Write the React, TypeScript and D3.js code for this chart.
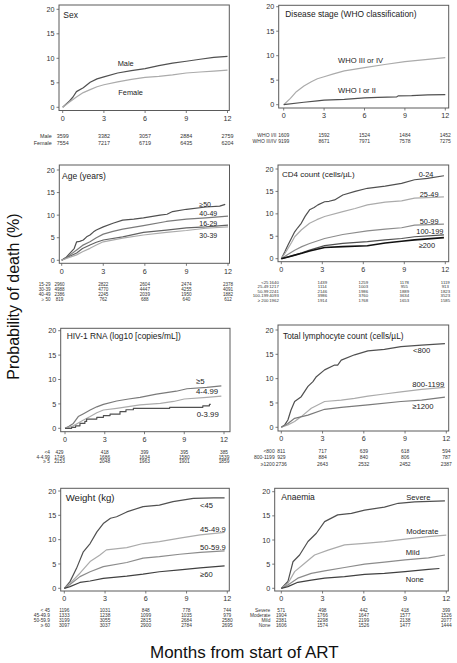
import React from "react";
import * as d3 from "d3";

// ---------------- DATA ----------------
const MONTH_TICKS = [0, 3, 6, 9, 12];
const PCT_TICKS = [0, 5, 10, 15, 20];

type Pt = [number, number];

// Sex
const SEX_TITLE = "Sex";
const SEX_GROUPS = ["Male", "Female"];
const SEX_RISK_LABELS = ["Male", "Female"];
const SEX_MALE: Pt[] = [[0,0],[0.5,1.3],[0.75,2.1],[1,3.2],[1.5,4],[2,5.1],[2.5,5.8],[3,6.2],[4,7],[5,7.5],[6,7.9],[7,8.5],[8,9],[9,9.4],[10,9.8],[11,10.2],[12,10.4]];
const SEX_FEMALE: Pt[] = [[0,0],[0.5,1.1],[1,2.1],[1.5,3],[2,3.6],[2.5,4.2],[3,4.6],[4,5.2],[5,5.7],[6,6.1],[7,6.3],[8,6.6],[9,7],[10,7.2],[11,7.4],[12,7.6]];
const SEX_RISK = [[3599, 3382, 3057, 2884, 2759], [7554, 7217, 6719, 6435, 6204]];

// Disease stage
const STAGE_TITLE = "Disease stage (WHO classification)";
const STAGE_GROUPS = ["WHO III or IV", "WHO I or II"];
const STAGE_RISK_LABELS = ["WHO I/II", "WHO III/IV"];
const STAGE_34: Pt[] = [[0,0],[0.5,1.3],[0.94,2.65],[1.5,3.8],[2.05,4.7],[2.5,5.3],[3,5.7],[3.7,6.3],[4.5,6.9],[5.2,7.2],[6,7.55],[7.5,8.2],[9,8.8],[10.7,9.25],[12,9.6]];
const STAGE_12: Pt[] = [[0,0],[1.5,0.5],[2.5,0.8],[3,0.95],[4.5,1.1],[5,1.2],[6,1.4],[7,1.5],[8.4,1.6],[8.5,1.8],[9.5,1.85],[10.7,2.0],[12,2.05]];
const STAGE_RISK = [[1609, 1592, 1524, 1484, 1452], [9199, 8671, 7971, 7578, 7275]];

// Age
const AGE_TITLE = "Age (years)";
const AGE_GROUPS = ["\u226550", "40-49", "16-29", "30-39"];
const AGE_RISK_LABELS = ["15-29", "30-39", "40-49", "\u2265 50"];
const AGE_50: Pt[] = [[0,0],[0.3,0.6],[0.6,1.6],[0.9,2.6],[1.08,4.1],[1.3,4.2],[1.56,4.5],[1.8,5.2],[2.04,5.6],[2.3,6.3],[2.5,6.7],[3,7.4],[3.7,8.2],[4.4,8.9],[5.2,9.1],[5.9,9.4],[7.1,10],[7.6,10.2],[8,10.8],[9,11.3],[10.4,11.8],[11.4,12],[11.8,12.4]];
const AGE_40: Pt[] = [[0,0],[0.6,1.2],[1.08,2.3],[1.5,3.3],[2.04,4.1],[2.5,5],[3,5.8],[3.7,6.4],[4.4,6.9],[5.9,7.7],[7.55,8.6],[9,9.1],[10.4,9.4],[12,9.8]];
const AGE_15: Pt[] = [[0,0],[0.5,0.8],[1.08,1.6],[1.5,2.6],[2.04,3.4],[2.5,4],[3,4.5],[4.4,5.2],[5.9,6.2],[7.55,6.7],[9,7.2],[10.4,7.4],[12,7.8]];
const AGE_30: Pt[] = [[0,0],[0.5,0.6],[1.08,1.2],[1.5,1.9],[2.04,2.65],[2.5,3.4],[3,4.1],[4.4,4.9],[5.9,5.6],[7.55,6.2],[9,6.6],[10.4,7.1],[12,7.4]];
const AGE_RISK = [[2960, 2822, 2604, 2474, 2378], [4988, 4770, 4447, 4255, 4091], [2386, 2245, 2039, 1950, 1882], [819, 762, 688, 640, 612]];

// CD4
const CD4_TITLE = "CD4 count (cells/\u00b5L)";
const CD4_GROUPS = ["0-24", "25-49", "50-99", "100-199", "\u2265200"];
const CD4_RISK_LABELS = ["<25", "25-49", "50-99", "100-199", "\u2265 200"];
const CD4_0: Pt[] = [[0,0],[0.25,1.5],[0.49,3.05],[0.75,4.6],[0.98,6],[1.2,6.9],[1.46,7.9],[1.75,9.5],[2.07,10.9],[2.4,11.4],[2.68,12],[3.17,12.7],[3.5,12.8],[3.9,13.1],[4.5,14.2],[5.4,15],[6.3,15.7],[7.6,16.2],[8.8,16.8],[9.75,17.6],[10.7,17.9],[11.9,18.5]];
const CD4_25: Pt[] = [[0,0],[0.25,1.1],[0.49,2.3],[0.75,3.6],[0.98,4.9],[1.46,6.4],[2.07,7.9],[2.6,8.7],[3.17,9.4],[4.5,10.5],[5.4,11.2],[6.3,12.0],[7.6,12.6],[8.8,12.9],[9.75,13.5],[11.9,13.8]];
const CD4_50: Pt[] = [[0,0],[0.5,1],[0.98,1.9],[1.5,2.7],[2.07,3.4],[3.17,4.5],[4.5,5.4],[6.3,6.2],[7.6,6.6],[8.8,6.9],[9.75,7.5],[11.9,7.7]];
const CD4_100: Pt[] = [[0,0],[0.5,0.4],[0.98,0.8],[1.5,1.3],[2.07,1.9],[3.17,2.9],[4.5,3.4],[6.3,3.8],[7.6,4.2],[8.8,4.5],[9.75,4.9],[11.9,5.3]];
const CD4_200: Pt[] = [[0,0],[0.5,0.4],[0.98,0.8],[1.5,1.2],[2.07,1.7],[3.17,2.5],[4.5,2.7],[6.3,2.9],[7.6,3.5],[8.8,3.9],[9.75,4.2],[11.9,4.7]];
const CD4_RISK = [[1640, 1439, 1259, 1178, 1119], [1217, 1114, 1003, 955, 913], [2241, 2146, 1986, 1889, 1823], [4093, 3986, 3760, 3634, 3523], [1962, 1914, 1768, 1653, 1585]];

// HIV-1 RNA
const RNA_TITLE = "HIV-1 RNA (log10 [copies/mL])";
const RNA_GROUPS = ["\u22655", "4-4.99", "0-3.99"];
const RNA_RISK_LABELS = ["<4", "4-4.99", "\u2265 5"];
const RNA_5: Pt[] = [[0,0],[0.3,0.4],[0.63,1.0],[1.0,2.4],[1.4,3.0],[1.9,3.75],[2.4,4.4],[2.9,4.9],[3.9,5.6],[4.8,6.0],[5.66,6.35],[6.9,7.0],[8.4,7.6],[9.2,8.1],[10.7,8.4],[11.8,8.7]];
const RNA_4: Pt[] = [[0,0],[0.63,0.5],[1.0,1.1],[1.4,1.7],[1.9,2.4],[2.4,3.2],[2.9,3.75],[3.9,4.1],[5.66,4.8],[7.2,5.1],[8.2,5.5],[9.0,6.0],[10.7,6.35],[11.8,6.6]];
const RNA_0: Pt[] = [[0,0],[0.5,0.2],[0.8,0.5],[1.13,1.0],[1.5,1.4],[1.63,1.9],[2.4,2.25],[2.9,2.6],[3.4,2.9],[4.15,3.4],[4.6,3.8],[5.16,4.1],[7.9,4.3],[10.4,4.6],[10.9,4.9],[11.0,4.9]];
const RNA_RISK = [[429, 418, 399, 395, 385], [1746, 1686, 1634, 1580, 1539], [2153, 2048, 1963, 1901, 1859]];

// Total lymphocyte count
const TLC_TITLE = "Total lymphocyte count (cells/\u00b5L)";
const TLC_GROUPS = ["<800", "800-1199", "\u22651200"];
const TLC_RISK_LABELS = ["<800", "800-1199", "\u22651200"];
const TLC_800: Pt[] = [[0,0],[0.25,0.5],[0.48,1.5],[0.7,3.5],[0.97,5.3],[1.45,6.3],[1.94,8.4],[2.3,9.4],[2.55,10.4],[3.15,11.8],[3.88,12.8],[4.1,12.8],[4.36,13.8],[5.33,14.9],[6.3,15.7],[7.5,16.0],[8.7,16.6],[10.2,16.9],[11.9,17.2]];
const TLC_1199: Pt[] = [[0,0],[0.48,0.5],[0.97,1.2],[1.45,2.2],[2.18,3.9],[3.15,5.3],[4.36,5.6],[5.33,5.95],[6.3,6.4],[7.5,6.85],[8.7,7.3],[10.2,7.8],[11.9,8.2]];
const TLC_1200: Pt[] = [[0,0],[0.48,0.8],[0.97,1.85],[1.94,2.5],[3.15,3.7],[4.36,4.1],[6.3,4.6],[8.7,5.3],[10.2,5.6],[11.9,6.2]];
const TLC_RISK = [[811, 717, 639, 618, 594], [929, 884, 840, 806, 787], [2736, 2643, 2532, 2452, 2387]];

// Weight
const WT_TITLE = "Weight (kg)";
const WT_GROUPS = ["<45", "45-49.9", "50-59.9", "\u226560"];
const WT_RISK_LABELS = ["< 45", "45-49.9", "50-59.9", "\u2265 60"];
const WT_45: Pt[] = [[0,0],[0.42,1.37],[0.9,4.1],[1.4,7.5],[1.9,9.2],[2.4,11.6],[2.87,13.3],[3.4,14.4],[3.85,14.7],[4.6,15.7],[5.8,16.8],[7.0,17.1],[8.0,17.8],[9.5,18.5],[11.0,18.6],[11.8,18.6]];
const WT_4549: Pt[] = [[0,0],[0.42,1.0],[1.15,3.1],[1.9,5.5],[2.6,6.8],[3.1,7.9],[4.6,8.35],[5.8,9.2],[7.0,9.6],[8.5,10.3],[10.0,11.0],[11.8,11.5]];
const WT_5059: Pt[] = [[0,0],[0.42,0.8],[1.15,2.4],[1.9,3.4],[2.87,4.45],[4.6,5.3],[5.8,6.2],[7.0,6.5],[8.5,7.0],[10.0,7.4],[11.8,7.7]];
const WT_60: Pt[] = [[0,0],[0.42,0.34],[1.15,1.2],[1.9,1.5],[2.87,2.05],[4.6,2.5],[5.8,2.9],[7.0,3.4],[8.5,3.8],[10.0,4.2],[11.8,4.6]];
const WT_RISK = [[1196, 1031, 848, 778, 744], [1333, 1238, 1099, 1035, 979], [3199, 3055, 2815, 2684, 2580], [3097, 3037, 2900, 2784, 2695]];

// Anaemia
const AN_TITLE = "Anaemia";
const AN_GROUPS = ["Severe", "Moderate", "Mild", "None"];
const AN_RISK_LABELS = ["Severe", "Moderate", "Mild", "None"];
const AN_SEV: Pt[] = [[0,0],[0.48,1.4],[0.85,5.5],[1.33,6.9],[1.94,9.7],[2.55,11.4],[3.15,13.8],[4.1,15.2],[5.1,15.5],[6.06,16.2],[7.5,16.8],[8.5,17.6],[9.7,17.9],[11.9,18.1]];
const AN_MOD: Pt[] = [[0,0],[0.48,1.0],[0.97,3.45],[1.7,5.2],[2.42,6.9],[3.4,7.9],[4.6,9.0],[6.06,9.3],[7.5,9.65],[9.0,10.2],[10.7,10.7],[12,11.0]];
const AN_MILD: Pt[] = [[0,0],[0.48,0.7],[1.2,2.1],[2.18,3.1],[3.15,3.6],[4.6,4.3],[6.06,5.0],[7.5,5.4],[9.0,5.9],[10.7,6.3],[11.9,6.9]];
const AN_NONE: Pt[] = [[0,0],[0.48,0.34],[1.2,1.24],[2.18,1.7],[3.15,2.1],[4.6,2.4],[6.06,2.9],[7.5,3.1],[9.0,3.45],[10.7,3.9],[11.5,4.1]];
const AN_RISK = [[571, 498, 442, 418, 399], [1904, 1766, 1647, 1577, 1526], [2381, 2298, 2199, 2138, 2077], [1606, 1574, 1526, 1477, 1444]];

const Y_AXIS_TITLE = "Probability of death (%)";
const X_AXIS_TITLE = "Months from start of ART";

// ---------------- LAYOUT / STYLE ----------------
const DARK = "#505050";
const MID = "#7a7a7a";
const MID2 = "#8c8c8c";
const LIGHT = "#ababab";

interface PanelCfg {
  title: string; titleX: number; titleY: number; titleSize: number;
  box: [number, number, number, number];
  xr: [number, number]; yr: [number, number];
  series: Pt[][]; colors: string[]; widths?: number[]; step?: boolean[];
  groups: string[]; labelPos: [number, number][]; labelSize: number;
  riskLabels: string[]; risk: number[][]; riskX: number; riskY: number[]; riskSize: number;
  firstColX?: number;
  tickSize: number;
}

const PANELS: PanelCfg[] = [
  { title: SEX_TITLE, titleX: 63.3, titleY: 18.3, titleSize: 8.5,
    box: [59, 5, 229.3, 110.5], xr: [62.7, 227.5], yr: [107.3, 9.3],
    series: [SEX_MALE, SEX_FEMALE], colors: [DARK, LIGHT],
    groups: SEX_GROUPS, labelPos: [[117.7, 66], [118.3, 95.4]], labelSize: 7.4,
    riskLabels: SEX_RISK_LABELS, risk: SEX_RISK, riskX: 51.7, riskY: [136, 142.7], riskSize: 5.4, tickSize: 7.2 },
  { title: STAGE_TITLE, titleX: 285.3, titleY: 16.9, titleSize: 8.4,
    box: [278.7, 5.3, 448.7, 108], xr: [283.7, 445.3], yr: [104.7, 6.7],
    series: [STAGE_34, STAGE_12], colors: [LIGHT, DARK],
    groups: STAGE_GROUPS, labelPos: [[338, 62.7], [338, 93.4]], labelSize: 7.6,
    riskLabels: STAGE_RISK_LABELS, risk: STAGE_RISK, riskX: 276.5, riskY: [135, 141], riskSize: 5, tickSize: 7.2 },
  { title: AGE_TITLE, titleX: 62, titleY: 179, titleSize: 8.5,
    box: [59.3, 165, 229.5, 263.3], xr: [61.7, 228], yr: [260.3, 170],
    series: [AGE_50, AGE_40, AGE_15, AGE_30], colors: [DARK, MID, "#626262", LIGHT],
    groups: AGE_GROUPS, labelPos: [[199.3, 207], [199.3, 216], [199.3, 226], [199.3, 237.7]], labelSize: 7,
    riskLabels: AGE_RISK_LABELS, risk: AGE_RISK, riskX: 50.5, riskY: [284.3, 289.3, 294.3, 299.3], riskSize: 4.6,
    firstColX: 59.5, tickSize: 7.2 },
  { title: CD4_TITLE, titleX: 282, titleY: 176.7, titleSize: 8,
    box: [278, 165, 448.7, 261.7], xr: [281.3, 445.3], yr: [258.7, 169],
    series: [CD4_0, CD4_25, CD4_50, CD4_100, CD4_200], colors: [DARK, LIGHT, MID2, DARK, "#111"], widths: [1.2, 1.2, 1.2, 1.2, 1.6],
    groups: CD4_GROUPS, labelPos: [[418.7, 176.7], [419.7, 197], [419.7, 224.4], [416.3, 234.4], [418.7, 248.4]], labelSize: 7.4,
    riskLabels: CD4_RISK_LABELS, risk: CD4_RISK, riskX: 268.5, riskY: [282.3, 286.7, 291.1, 295.6, 300.1], riskSize: 4.3,
    firstColX: 274, tickSize: 7.2 },
  { title: RNA_TITLE, titleX: 66.7, titleY: 339.3, titleSize: 8.4,
    box: [60.7, 328.3, 230, 431.7], xr: [65, 224], yr: [428.3, 330.7],
    series: [RNA_5, RNA_4, RNA_0], colors: [MID, LIGHT, DARK], step: [false, false, true],
    groups: RNA_GROUPS, labelPos: [[196, 383.7], [196, 394.4], [196.7, 417]], labelSize: 7.8,
    riskLabels: RNA_RISK_LABELS, risk: RNA_RISK, riskX: 50, riskY: [452.3, 457, 461.7], riskSize: 4.8,
    firstColX: 59.5, tickSize: 7.2 },
  { title: TLC_TITLE, titleX: 283, titleY: 339, titleSize: 8.3,
    box: [278, 325, 448.7, 431], xr: [281.3, 446.3], yr: [427.3, 330],
    series: [TLC_800, TLC_1199, TLC_1200], colors: [DARK, LIGHT, MID],
    groups: TLC_GROUPS, labelPos: [[413, 352.7], [412.3, 387], [412.3, 408.7]], labelSize: 7.7,
    riskLabels: TLC_RISK_LABELS, risk: TLC_RISK, riskX: 274.7, riskY: [451, 457, 463.7], riskSize: 5, tickSize: 7.2 },
  { title: WT_TITLE, titleX: 65.7, titleY: 501, titleSize: 9.6,
    box: [60.7, 488.3, 229.3, 591], xr: [64.3, 227.3], yr: [588.3, 491],
    series: [WT_45, WT_4549, WT_5059, WT_60], colors: [DARK, LIGHT, MID2, "#404040"],
    groups: WT_GROUPS, labelPos: [[200, 507.7], [200, 531.7], [200, 550.4], [200, 577]], labelSize: 7.6,
    riskLabels: WT_RISK_LABELS, risk: WT_RISK, riskX: 50, riskY: [610.7, 615.7, 620.7, 625.7], riskSize: 4.8, tickSize: 7.2 },
  { title: AN_TITLE, titleX: 281.3, titleY: 500.3, titleSize: 8.5,
    box: [274.7, 488.3, 448.3, 591], xr: [281.3, 446.3], yr: [588.3, 491.7],
    series: [AN_SEV, AN_MOD, AN_MILD, AN_NONE], colors: [DARK, LIGHT, MID2, "#404040"],
    groups: AN_GROUPS, labelPos: [[406.3, 500.4], [406.3, 533.7], [405.7, 555.4], [405.7, 582]], labelSize: 7.6,
    riskLabels: AN_RISK_LABELS, risk: AN_RISK, riskX: 270.3, riskY: [610, 615.2, 620.5, 625.7], riskSize: 4.8, tickSize: 7.2 },
];

const FONT = "'Liberation Sans', Arial, Helvetica, sans-serif";

function Panel({ p }: { p: PanelCfg }) {
  const x = d3.scaleLinear().domain([0, 12]).range(p.xr);
  const y = d3.scaleLinear().domain([0, 20]).range(p.yr);
  const [l, t, r, b] = p.box;
  const colX = (j: number) => (j === 0 && p.firstColX !== undefined ? p.firstColX : x(MONTH_TICKS[j]));
  return (
    <g>
      {p.series.map((s, i) => {
        const gen = d3.line<Pt>().x(d => x(d[0])).y(d => y(d[1]))
          .curve(p.step && p.step[i] ? d3.curveStepAfter : d3.curveLinear);
        return <path key={i} d={gen(s) || ""} fill="none" stroke={p.colors[i]}
          strokeWidth={p.widths ? p.widths[i] : 1.2} strokeLinejoin="round" />;
      })}
      <rect x={l} y={t} width={r - l} height={b - t} fill="none" stroke="#5a5a5a" strokeWidth={1} />
      {MONTH_TICKS.map(m => (
        <g key={"x" + m}>
          <line x1={x(m)} x2={x(m)} y1={b} y2={b + 2.5} stroke="#5a5a5a" strokeWidth={0.8} />
          <text x={x(m)} y={b + 10.3} fontSize={p.tickSize} textAnchor="middle" fill="#333">{m}</text>
        </g>
      ))}
      {PCT_TICKS.map(v => (
        <g key={"y" + v}>
          <line x1={l - 2.5} x2={l} y1={y(v)} y2={y(v)} stroke="#5a5a5a" strokeWidth={0.8} />
          <text x={l - 4.5} y={y(v) + 2.6} fontSize={p.tickSize} textAnchor="end" fill="#333">{v}</text>
        </g>
      ))}
      <text x={p.titleX} y={p.titleY} fontSize={p.titleSize} fill="#222">{p.title}</text>
      {p.groups.map((g, i) => (
        <text key={"lab" + i} x={p.labelPos[i][0]} y={p.labelPos[i][1]} fontSize={p.labelSize} fill="#222">{g}</text>
      ))}
      {p.riskLabels.map((lab, i) => (
        <g key={"risk" + i}>
          <text x={p.riskX} y={p.riskY[i] + p.riskSize * 0.36} fontSize={p.riskSize} textAnchor="end" fill="#333">{lab}</text>
          {p.risk[i].map((n, j) => (
            <text key={j} x={colX(j)} y={p.riskY[i] + p.riskSize * 0.36} fontSize={p.riskSize}
              textAnchor="middle" fill="#333">{n}</text>
          ))}
        </g>
      ))}
    </g>
  );
}

export default function App() {
  return (
    <svg width={457} height={663} viewBox="0 0 457 663"
      style={{ position: "absolute", left: 0, top: 0, background: "#fff" }} fontFamily={FONT}>
      <rect x={0} y={0} width={457} height={663} fill="#fff" />
      {PANELS.map((p, i) => <Panel key={i} p={p} />)}
      <text transform="translate(18.5,296.5) rotate(-90)" textAnchor="middle" fontSize={16} fill="#111">{Y_AXIS_TITLE}</text>
      <text x={244.3} y={658} textAnchor="middle" fontSize={17} fill="#111">{X_AXIS_TITLE}</text>
    </svg>
  );
}
